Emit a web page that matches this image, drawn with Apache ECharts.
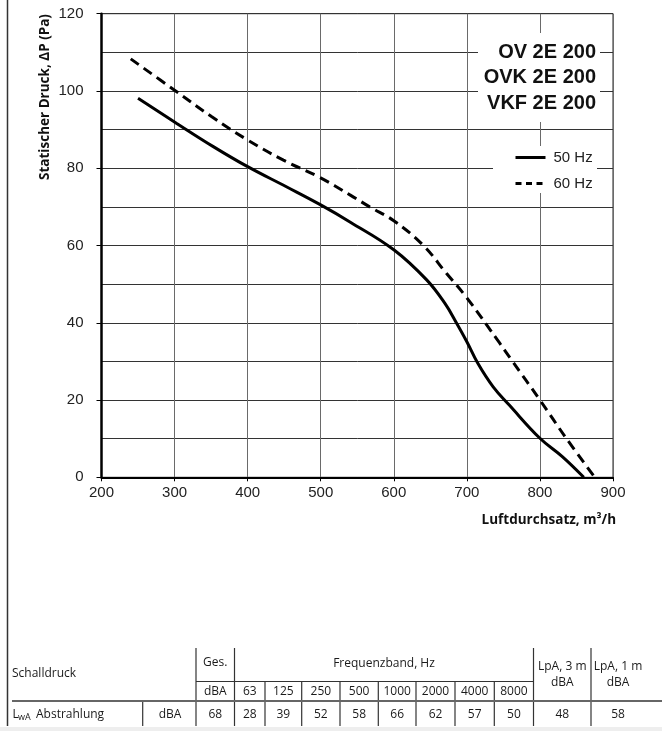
<!DOCTYPE html>
<html>
<head>
<meta charset="utf-8">
<script src="https://cdn.jsdelivr.net/npm/echarts@6/dist/echarts.min.js"></script>
<style>
html,body{margin:0;padding:0;background:#fff;}
#chart{width:662px;height:731px;}
</style>
</head>
<body>
<div id="chart"></div>
<script>
// ---- Data ----
const flow50 = [250, 303, 353, 400, 453, 500, 540, 600, 645, 670, 686, 700, 715, 736, 758, 800, 831, 860];
const pressure50 = [98.1, 91.6, 85.6, 80.4, 75.2, 70.5, 66.1, 58.9, 51.1, 45, 39.9, 35.1, 29.5, 23.4, 18.7, 10.1, 5.3, 0];
const flow60 = [240, 300, 351, 400, 449, 499, 540, 567, 600, 640, 672, 699, 745, 761, 800, 836, 875];
const pressure60 = [108.3, 100.2, 93.3, 87.3, 82.1, 77.6, 73.1, 70, 66.4, 60.1, 52.8, 46.7, 34.7, 30.4, 20, 10.1, 0];
const seriesNames = ['50 Hz', '60 Hz'];
const modelNames = ['OV 2E 200', 'OVK 2E 200', 'VKF 2E 200'];
const xAxisName = 'Luftdurchsatz, m³/h';
const yAxisName = 'Statischer Druck, ΔP (Pa)';

const tableTitle = 'Schalldruck';
const totalHeader = 'Ges.';
const bandHeader = 'Frequenzband, Hz';
const unitLabel = 'dBA';
const freqBands = ['63', '125', '250', '500', '1000', '2000', '4000', '8000'];
const bandValues = [28, 39, 52, 58, 66, 62, 57, 50];
const totalValue = 68;
const lpaHeaders = [['LpA, 3 m', 'dBA'], ['LpA, 1 m', 'dBA']];
const lpaValues = [48, 58];
const rowLabelMain = 'L';
const rowLabelSub = 'wA';
const rowLabelRest = 'Abstrahlung';

// ---- Layout ----
const tickFont = 'Liberation Sans, Arial, sans-serif';
const tableFont = '"Open Sans", "Noto Sans", sans-serif';
const graphics = [];

// left frame line and bottom band
graphics.push({type:'line', shape:{x1:7.5,y1:0,x2:7.5,y2:726}, style:{stroke:'#333', lineWidth:1.5}, z:1});
graphics.push({type:'rect', shape:{x:0,y:727,width:662,height:4}, style:{fill:'#eeeeee'}, z:1});

// white boxes covering grid lines
graphics.push({type:'rect', shape:{x:478,y:33,width:122,height:89}, style:{fill:'#fff'}, z:3});
graphics.push({type:'rect', shape:{x:493,y:146,width:104,height:47}, style:{fill:'#fff'}, z:3});

// model titles
const titleY = [52, 77.5, 103];
modelNames.forEach((t, i) => {
  graphics.push({type:'text', z:5, style:{text:t, x:596, y:titleY[i], align:'right', verticalAlign:'middle',
    font:'bold 20px "Liberation Sans", Arial, sans-serif', fill:'#111'}});
});

// axis names
graphics.push({type:'text', z:5, x:45, y:97, rotation:Math.PI/2, style:{text:yAxisName, x:0, y:0, align:'center', verticalAlign:'middle',
  font:'bold 13.5px "Open Sans", sans-serif', fill:'#111'}});
graphics.push({type:'text', z:5, style:{text:xAxisName, x:616, y:520, align:'right', verticalAlign:'middle',
  font:'bold 13.5px "Open Sans", sans-serif', fill:'#111'}});

// ---- Table ----
const colX = [196, 234.5, 265, 301.7, 340, 378.3, 416, 455, 494.3, 533.5, 591, 645];
const rowY = {top:648, mid:681.5, thick:701, bottom:726};
const lineCol = '#333';
function vline(x, y1, y2){ graphics.push({type:'line', shape:{x1:x,y1:y1,x2:x,y2:y2}, style:{stroke:lineCol, lineWidth:1.2}, z:1}); }
function hline(x1, x2, y, w, c){ graphics.push({type:'line', shape:{x1:x1,y1:y,x2:x2,y2:y}, style:{stroke:c||lineCol, lineWidth:w||1}, z:1}); }
function txt(t, x, y, align, size){ graphics.push({type:'text', z:5, style:{text:t, x:x, y:y, align:align||'center', verticalAlign:'middle',
  font:(size||12)+'px ' + tableFont, fill:'#1a1a1a'}}); }

vline(colX[0], rowY.top, rowY.bottom);
vline(colX[1], rowY.top, rowY.bottom);
vline(colX[9], rowY.top, rowY.bottom);
vline(colX[10], rowY.top, rowY.bottom);
for (let i = 2; i <= 8; i++) vline(colX[i], rowY.mid, rowY.bottom);
vline(142.7, rowY.thick, rowY.bottom);
hline(colX[0], colX[9], rowY.mid, 1.2);
hline(12, 662, rowY.thick, 2, '#666');

txt(tableTitle, 12, 674, 'left');
txt(totalHeader, (colX[0]+colX[1])/2, 663);
txt(bandHeader, (colX[1]+colX[9])/2, 664);
txt(unitLabel, (colX[0]+colX[1])/2, 691.5);
freqBands.forEach((b, i) => txt(b, (colX[i+1]+colX[i+2])/2, 691.5));
lpaHeaders.forEach((h, i) => {
  const cx = i === 0 ? (colX[9]+colX[10])/2 : 618;
  txt(h[0], cx, 667);
  txt(h[1], cx, 683);
});
// data row
txt(rowLabelMain, 12.5, 714.5, 'left');
graphics.push({type:'text', z:5, style:{text:rowLabelSub, x:18, y:717, align:'left', verticalAlign:'middle', font:'9px ' + tableFont, fill:'#1a1a1a'}});
txt(rowLabelRest, 36, 714.5, 'left');
txt(unitLabel, 170, 714.5);
txt(String(totalValue), (colX[0]+colX[1])/2, 714.5);
bandValues.forEach((v, i) => txt(String(v), (colX[i+1]+colX[i+2])/2, 714.5));
lpaValues.forEach((v, i) => txt(String(v), i === 0 ? (colX[9]+colX[10])/2 : 618, 714.5));

// ---- Chart ----
const chart = echarts.init(document.getElementById('chart'));
chart.setOption({
  animation: false,
  backgroundColor: '#fff',
  grid: {left: 101.5, right: 49, top: 13.7, bottom: 253.7, show: true, borderColor: '#222', borderWidth: 1, backgroundColor: 'transparent'},
  legend: {
    data: [
      {name: seriesNames[0], lineStyle: {width: 3, type: 'solid', color: '#000'}},
      {name: seriesNames[1], lineStyle: {width: 3, type: [6, 4.5], color: '#000'}}
    ],
    orient: 'vertical', left: 514, top: 150, itemWidth: 30, itemHeight: 14, itemGap: 11,
    selectedMode: false, z: 4, padding: 0,
    itemStyle: {opacity: 0},
    textStyle: {fontSize: 15, fontFamily: tickFont, color: '#222', padding: [0,0,0,3]}
  },
  xAxis: {
    type: 'value', min: 200, max: 900, interval: 100,
    axisLine: {show: true, onZero: false, lineStyle: {color: '#000', width: 2}},
    axisTick: {show: true, inside: false, length: 4, lineStyle: {color: '#000', width: 1}},
    axisLabel: {fontSize: 15, fontFamily: tickFont, color: '#222', margin: 8},
    splitLine: {show: true, lineStyle: {color: '#6a6a6a', width: 1}}
  },
  yAxis: {
    type: 'value', min: 0, max: 120, interval: 20,
    axisLine: {show: true, onZero: false, lineStyle: {color: '#000', width: 2.5}},
    axisTick: {show: true, inside: false, length: 5, lineStyle: {color: '#000', width: 1}},
    axisLabel: {fontSize: 15, fontFamily: tickFont, color: '#222', margin: 18},
    splitLine: {show: true, lineStyle: {color: '#333', width: 1}},
    minorTick: {show: false, splitNumber: 2},
    minorSplitLine: {show: true, lineStyle: {color: '#333', width: 1}}
  },
  series: [
    {name: seriesNames[0], type: 'line', smooth: 0.4, symbol: 'none', z: 2,
     lineStyle: {color: '#000', width: 3, type: 'solid'}, itemStyle: {color: '#000'},
     data: flow50.map((x, i) => [x, pressure50[i]])},
    {name: seriesNames[1], type: 'line', smooth: 0.4, symbol: 'none', z: 2,
     lineStyle: {color: '#000', width: 3, type: [10, 6]}, itemStyle: {color: '#000'},
     data: flow60.map((x, i) => [x, pressure60[i]])}
  ],
  graphic: graphics
});
</script>
</body>
</html>
